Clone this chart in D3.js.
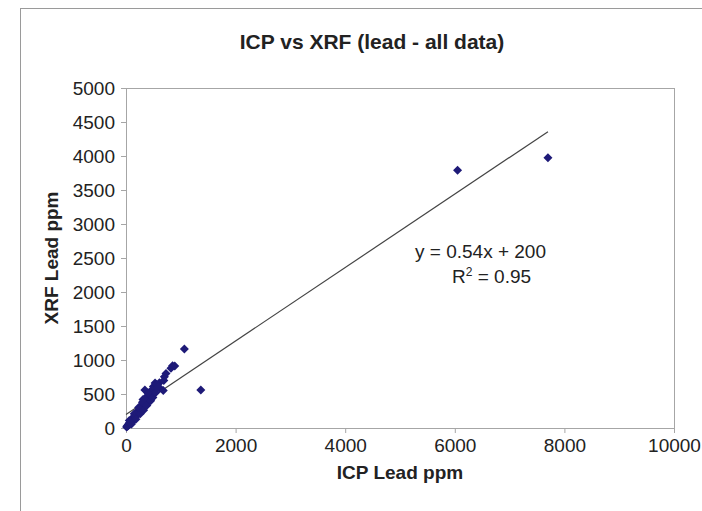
<!DOCTYPE html>
<html>
<head>
<meta charset="utf-8">
<script src="https://cdn.jsdelivr.net/npm/d3@7"></script>
<style>
  body { margin: 0; background: #fff; }
  text { font-family: "Liberation Sans", Arial, sans-serif; fill: #222; }
</style>
</head>
<body>
<div id="chart"></div>
<script>
// ICP vs XRF lead readings (ppm)
var icp = [10, 20, 30, 40, 50, 60, 70, 80, 90, 100, 110, 120, 130, 140, 150, 160, 170, 180, 190, 200,
           210, 220, 230, 240, 250, 260, 270, 280, 290, 300, 310, 320, 330, 340, 350, 360, 380, 390, 400, 410,
           430, 440, 460, 480, 500, 520, 345, 440, 530, 500, 610, 620, 680, 690, 700, 730, 820, 850, 890, 1065,
           60, 100, 150, 180, 230, 260, 300, 320, 360, 380, 420, 450, 470, 490, 520, 540, 560, 580, 400, 310,
           1365, 6050, 7700];
var xrf = [15, 30, 25, 50, 45, 70, 80, 75, 100, 110, 95, 140, 150, 130, 170, 180, 160, 200, 220, 210,
           190, 250, 260, 230, 280, 300, 270, 310, 330, 290, 350, 340, 380, 320, 400, 370, 430, 410, 450, 390,
           480, 460, 520, 500, 560, 540, 560, 510, 660, 610, 665, 585, 550, 700, 755, 800, 880, 915, 910, 1160,
           110, 60, 210, 130, 300, 210, 380, 260, 450, 330, 500, 400, 560, 450, 600, 520, 640, 600, 520, 420,
           560, 3790, 3975];
var xTicks = [0, 2000, 4000, 6000, 8000, 10000];
var yTicks = [0, 500, 1000, 1500, 2000, 2500, 3000, 3500, 4000, 4500, 5000];
var slope = 0.54, intercept = 200;

var W = 702, H = 511;
var margin = {top: 88, right: 28, bottom: 83, left: 126};
var width = W - margin.left - margin.right,
    height = H - margin.top - margin.bottom;

var svg = d3.select("#chart").append("svg")
  .attr("width", W).attr("height", H);

// outer chart frame
svg.append("rect")
  .attr("x", 20.5).attr("y", 8.5)
  .attr("width", 720).attr("height", 540)
  .attr("fill", "none").attr("stroke", "#9a9a9a");

svg.append("text")
  .attr("x", 372).attr("y", 49)
  .attr("text-anchor", "middle")
  .style("font-size", "21px").style("font-weight", "bold")
  .text("ICP vs XRF (lead - all data)");

var g = svg.append("g")
  .attr("transform", "translate(" + margin.left + "," + margin.top + ")");

var x = d3.scaleLinear().domain([0, 10000]).range([0, width]);
var y = d3.scaleLinear().domain([0, 5000]).range([height, 0]);

// plot area border
g.append("rect")
  .attr("x", 0.5).attr("y", 0.5)
  .attr("width", width).attr("height", height)
  .attr("fill", "none").attr("stroke", "#a6a6a6");

var xAxis = g.append("g")
  .attr("transform", "translate(0," + height + ")")
  .call(d3.axisBottom(x).tickValues(xTicks).tickSize(5).tickPadding(6).tickFormat(d3.format("d")));
var yAxis = g.append("g")
  .call(d3.axisLeft(y).tickValues(yTicks).tickSize(5).tickPadding(6).tickFormat(d3.format("d")));

[xAxis, yAxis].forEach(function(a) {
  a.select(".domain").attr("stroke", "#a6a6a6");
  a.selectAll(".tick line").attr("stroke", "#a6a6a6");
  a.selectAll(".tick text")
    .style("font-size", "19px")
    .style("font-family", "Liberation Sans, Arial, sans-serif")
    .attr("fill", "#222");
});

// trend line
var xMax = d3.max(icp);
g.append("line")
  .attr("x1", x(0)).attr("y1", y(intercept))
  .attr("x2", x(xMax)).attr("y2", y(slope * xMax + intercept))
  .attr("stroke", "#444").attr("stroke-width", 1.2);

// diamond markers
var pts = icp.map(function(v, i) { return [v, xrf[i]]; });
g.selectAll("path.pt")
  .data(pts)
  .enter()
  .append("path")
  .attr("class", "pt")
  .attr("d", "M0,-4.5L4.5,0L0,4.5L-4.5,0Z")
  .attr("transform", function(d) { return "translate(" + x(d[0]) + "," + y(d[1]) + ")"; })
  .attr("fill", "#1e1a78");

// equation label
g.append("text")
  .attr("x", 415 - margin.left).attr("y", 258 - margin.top)
  .style("font-size", "19px")
  .text("y = 0.54x + 200");
var r2 = g.append("text")
  .attr("x", 452 - margin.left).attr("y", 283 - margin.top)
  .style("font-size", "19px");
r2.append("tspan").text("R");
r2.append("tspan").attr("dy", -7).style("font-size", "12px").text("2");
r2.append("tspan").attr("dy", 7).text(" = 0.95");

// axis titles
svg.append("text")
  .attr("x", margin.left + width / 2).attr("y", 479)
  .attr("text-anchor", "middle")
  .style("font-size", "19px").style("font-weight", "bold")
  .text("ICP Lead ppm");
svg.append("text")
  .attr("transform", "translate(58," + (margin.top + height / 2) + ")rotate(-90)")
  .attr("text-anchor", "middle")
  .style("font-size", "19px").style("font-weight", "bold")
  .text("XRF Lead ppm");
</script>
</body>
</html>
